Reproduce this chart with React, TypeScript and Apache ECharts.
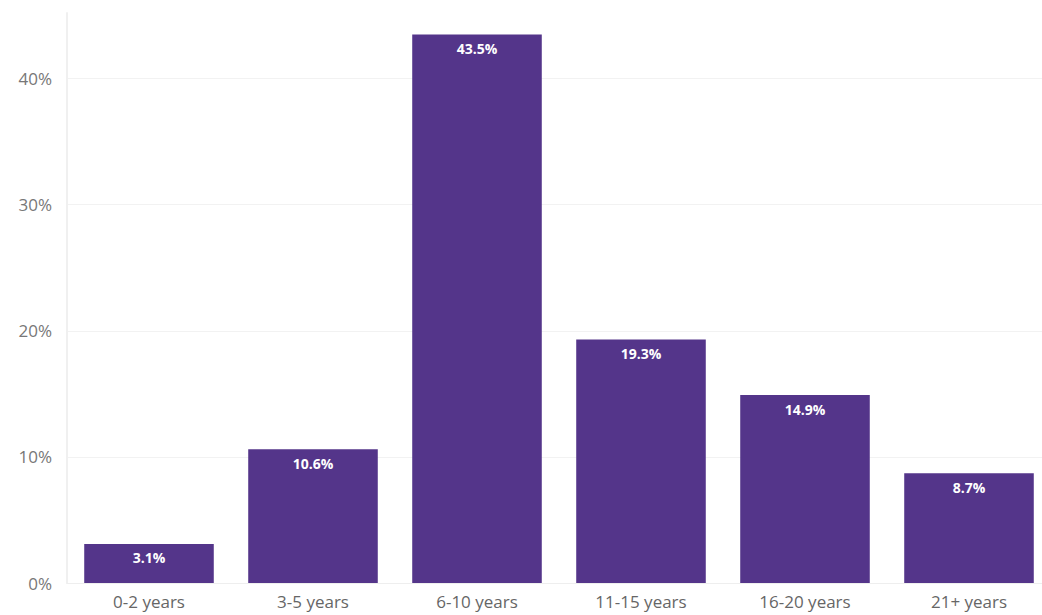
import React, { useEffect, useRef } from "react";
import * as echarts from "echarts";

const categories = ["0-2 years", "3-5 years", "6-10 years", "11-15 years", "16-20 years", "21+ years"];
const values = [3.1, 10.6, 43.5, 19.3, 14.9, 8.7];

export default function App() {
  const ref = useRef<HTMLDivElement>(null);
  useEffect(() => {
    const chart = echarts.init(ref.current!, null, { renderer: "svg" });
    chart.setOption({
      animation: false,
      textStyle: { fontFamily: "Open Sans" },
      grid: { left: 67, right: 0, top: 13, bottom: 32, containLabel: false },
      xAxis: {
        type: "category",
        data: categories,
        axisLine: { show: true, lineStyle: { color: "#eeeeee" } },
        axisTick: { show: false },
        axisLabel: { color: "#666", fontSize: 17, margin: 10, fontFamily: "Open Sans" },
      },
      yAxis: {
        type: "value",
        min: 0,
        max: 45.2,
        interval: 10,
        axisLine: { show: true, lineStyle: { color: "#f0f0f0", width: 2 } },
        axisTick: { show: false },
        axisLabel: {
          color: "#777",
          fontSize: 17,
          margin: 15,
          showMaxLabel: false,
          formatter: (v: number) => (v % 10 === 0 ? v + "%" : ""),
        },
        splitLine: {
          show: true,
          lineStyle: { color: ["#eeeeee", "#f2f2f2", "#f2f2f2", "#f2f2f2", "#f2f2f2", "rgba(0,0,0,0)"] },
        },
      },
      series: [
        {
          type: "bar",
          data: values,
          barCategoryGap: "21%",
          itemStyle: { color: "#54358a" },
          label: {
            show: true,
            position: "insideTop",
            distance: 7,
            color: "#ffffff",
            fontSize: 14,
            fontWeight: "bold",
            formatter: (p: any) => p.value + "%",
          },
        },
      ],
    });
    return () => chart.dispose();
  }, []);
  return (
    <div style={{ width: 1042, height: 615, position: "absolute", left: 0, top: 0, overflow: "hidden", background: "#fff" }}>
      <div ref={ref} style={{ width: 1051, height: 615 }} />
    </div>
  );
}
